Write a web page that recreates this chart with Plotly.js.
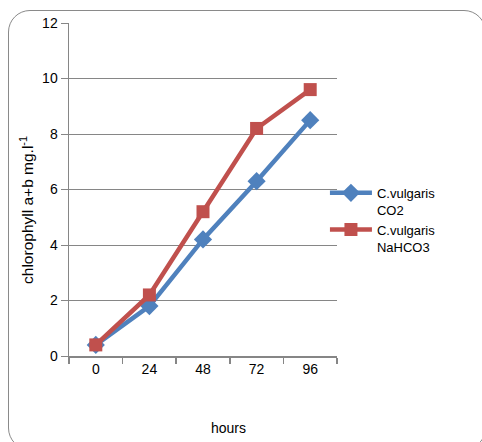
<!DOCTYPE html>
<html>
<head>
<meta charset="utf-8">
<script src="https://cdn.plot.ly/plotly-3.0.1.min.js"></script>
<style>
html,body{margin:0;padding:0;background:#fff;overflow:hidden;}
#wrap{position:relative;width:482px;height:442px;}
#frame{position:absolute;left:8px;top:10px;width:478px;height:440px;border:1.3px solid #8a8a8a;border-radius:22px;box-sizing:border-box;pointer-events:none;}
#chart{position:absolute;left:0;top:0;width:482px;height:442px;}
</style>
</head>
<body>
<div id="wrap"><div id="chart"></div><div id="frame"></div></div>
<script>
var hours = ["0", "24", "48", "72", "96"];
var co2Values = [0.4, 1.8, 4.2, 6.3, 8.5];
var nahco3Values = [0.4, 2.2, 5.2, 8.2, 9.6];
var seriesNames = ["C.vulgaris<br>CO2", "C.vulgaris<br>NaHCO3"];
var yTicks = [0, 2, 4, 6, 8, 10, 12];

var font = "Liberation Sans, Arial, sans-serif";
var traces = [
  {x: hours, y: co2Values, name: seriesNames[0], type: "scatter", mode: "lines+markers",
   line: {color: "#4F81BD", width: 4.5}, marker: {symbol: "diamond", size: 14, color: "#4F81BD"}},
  {x: hours, y: nahco3Values, name: seriesNames[1], type: "scatter", mode: "lines+markers",
   line: {color: "#C0504D", width: 4.5}, marker: {symbol: "square", size: 13, color: "#C0504D"}}
];
var layout = {
  width: 482, height: 442,
  margin: {l: 69, r: 145, t: 23, b: 86},
  paper_bgcolor: "rgba(0,0,0,0)", plot_bgcolor: "#fff",
  font: {family: font, size: 14, color: "#000"},
  showlegend: true,
  legend: {x: 0.955, y: 0.535, xanchor: "left", yanchor: "top", valign: "top", itemwidth: 42,
           font: {family: font, size: 13, color: "#000"}, tracegroupgap: 0, bgcolor: "rgba(0,0,0,0)"},
  xaxis: {type: "category", range: [-0.5, 4.5], showgrid: false, zeroline: false,
          showline: true, linecolor: "#868686", linewidth: 1.5,
          ticks: "outside", tickson: "boundaries", ticklen: 6, tickcolor: "#868686", tickwidth: 1.5,
          tickfont: {family: font, size: 14}, fixedrange: true},
  yaxis: {range: [0, 12], tickvals: yTicks, showgrid: true, gridcolor: "#868686", gridwidth: 1,
          zeroline: false, showline: true, linecolor: "#868686", linewidth: 1.5,
          ticks: "outside", ticklen: 7, tickcolor: "#868686", tickwidth: 1,
          tickfont: {family: font, size: 14}, fixedrange: true},
  annotations: [
    {text: "hours", xref: "paper", yref: "paper", x: 0.597, y: -0.215, xanchor: "center", yanchor: "middle",
     showarrow: false, font: {family: font, size: 14}},
    {text: "chlorophyll a+b mg.l<sup>-1</sup>", xref: "paper", yref: "paper", x: -0.155, y: 0.44,
     xanchor: "center", yanchor: "middle", textangle: -90, showarrow: false, font: {family: font, size: 15.5}}
  ]
};
Plotly.newPlot("chart", traces, layout, {displayModeBar: false, staticPlot: true});
</script>
</body>
</html>
